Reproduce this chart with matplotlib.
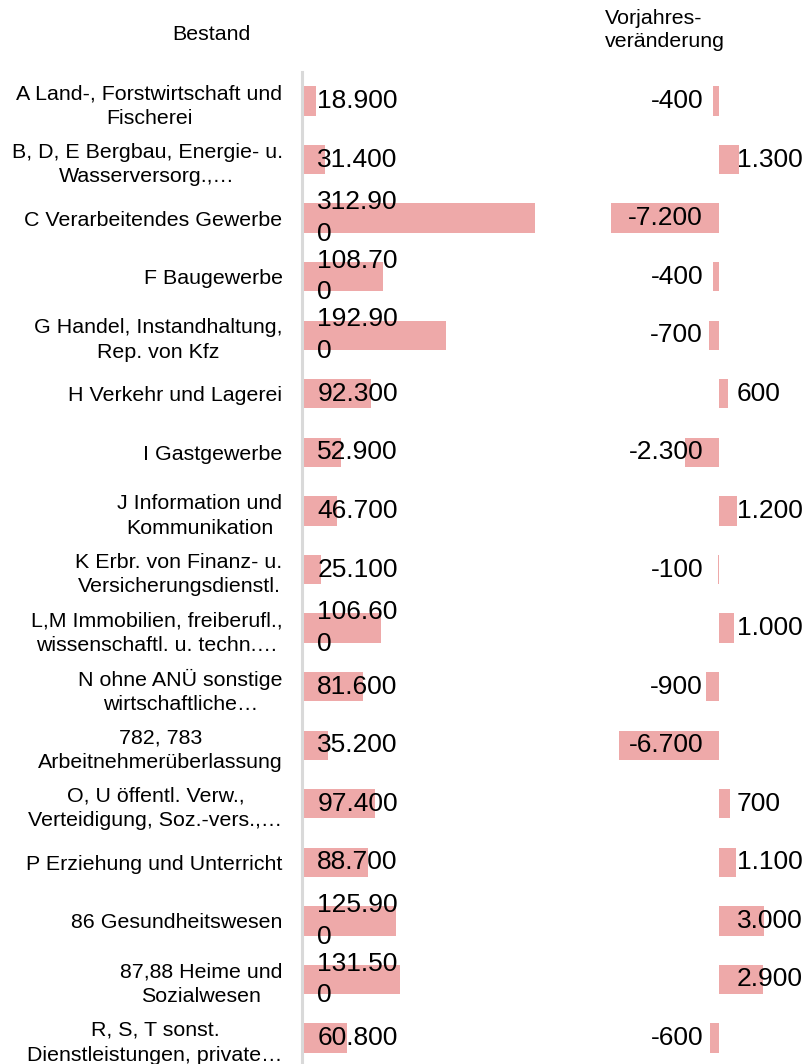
import matplotlib
matplotlib.use("Agg")
import matplotlib.pyplot as plt
import numpy as np

plt.rcParams['font.family'] = ['Liberation Sans', 'DejaVu Sans']

categories = [
    "A Land-, Forstwirtschaft und\nFischerei",
    "B, D, E Bergbau, Energie- u.\nWasserversorg.,…",
    "C Verarbeitendes Gewerbe",
    "F Baugewerbe",
    "G Handel, Instandhaltung,\nRep. von Kfz",
    "H Verkehr und Lagerei",
    "I Gastgewerbe",
    "J Information und\nKommunikation",
    "K Erbr. von Finanz- u.\nVersicherungsdienstl.",
    "L,M Immobilien, freiberufl.,\nwissenschaftl. u. techn.…",
    "N ohne ANÜ sonstige\nwirtschaftliche…",
    "782, 783\nArbeitnehmerüberlassung",
    "O, U öffentl. Verw.,\nVerteidigung, Soz.-vers.,…",
    "P Erziehung und Unterricht",
    "86 Gesundheitswesen",
    "87,88 Heime und\nSozialwesen",
    "R, S, T sonst.\nDienstleistungen, private…",
]
bestand = [18900, 31400, 312900, 108700, 192900, 92300, 52900, 46700, 25100,
           106600, 81600, 35200, 97400, 88700, 125900, 131500, 60800]
veraenderung = [-400, 1300, -7200, -400, -700, 600, -2300, 1200, -100,
                1000, -900, -6700, 700, 1100, 3000, 2900, -600]

BAR = '#EEA9A9'
W, H = 805, 1064
fig = plt.figure(figsize=(W / 100, H / 100), dpi=100)


def fmt(v):
    s = f"{v:,}".replace(",", ".")
    if len(s) > 6:
        s = s[:6] + "\n" + s[6:]
    return s


def px_axes(x0, x1, y0, y1):
    return fig.add_axes([x0 / W, 1 - y1 / H, (x1 - x0) / W, (y1 - y0) / H])


y = np.arange(len(categories))
row = 58.56
top_px, bot_px = 72, 1064
ylim = (16 + (bot_px - 1038) / row, -(101 - top_px) / row)

# left panel: Bestand
ax1 = px_axes(302, 580, top_px, bot_px)
ax1.barh(y, bestand, height=0.5, color=BAR)
ax1.set_xlim(0, 278 * 312900 / 233)
ax1.set_ylim(*ylim)
ax1.set_yticks(y)
ax1.set_yticklabels(categories, fontsize=15.4, linespacing=1.38,
                    multialignment='center')
ax1.tick_params(axis='y', length=0, pad=14)
ax1.set_xticks([])
for s in ['top', 'right', 'bottom']:
    ax1.spines[s].set_visible(False)
ax1.spines['left'].set_color('#d9d9d9')
ax1.spines['left'].set_linewidth(2.2)
for i, v in enumerate(bestand):
    ax1.annotate(fmt(v), xy=(0, i), xytext=(11, 0), textcoords='offset points',
                 ha='left', va='center', fontsize=19, linespacing=1.4)

# right panel: Vorjahresveränderung
ax2 = px_axes(580, 805, top_px, bot_px)
ax2.barh(y, veraenderung, height=0.5, color=BAR)
ax2.set_xlim((580 - 719) / 0.015, (805 - 719) / 0.015)
ax2.set_ylim(*ylim)
ax2.axis('off')
for i, v in enumerate(veraenderung):
    if v < 0:
        ax2.annotate(fmt(v), xy=(0, i), xytext=(-11.5, 0), textcoords='offset points',
                     ha='right', va='center', fontsize=19)
    else:
        ax2.annotate(fmt(v), xy=(0, i), xytext=(13, 0), textcoords='offset points',
                     ha='left', va='center', fontsize=19)

fig.text(211 / W, 1 - 34 / H, "Bestand", ha='center', va='center', fontsize=15.4)
fig.text(605 / W, 1 - 30 / H, "Vorjahres-\nveränderung", ha='left', va='center',
         fontsize=15.4, linespacing=1.22)

fig.savefig("out.png", dpi=100)
